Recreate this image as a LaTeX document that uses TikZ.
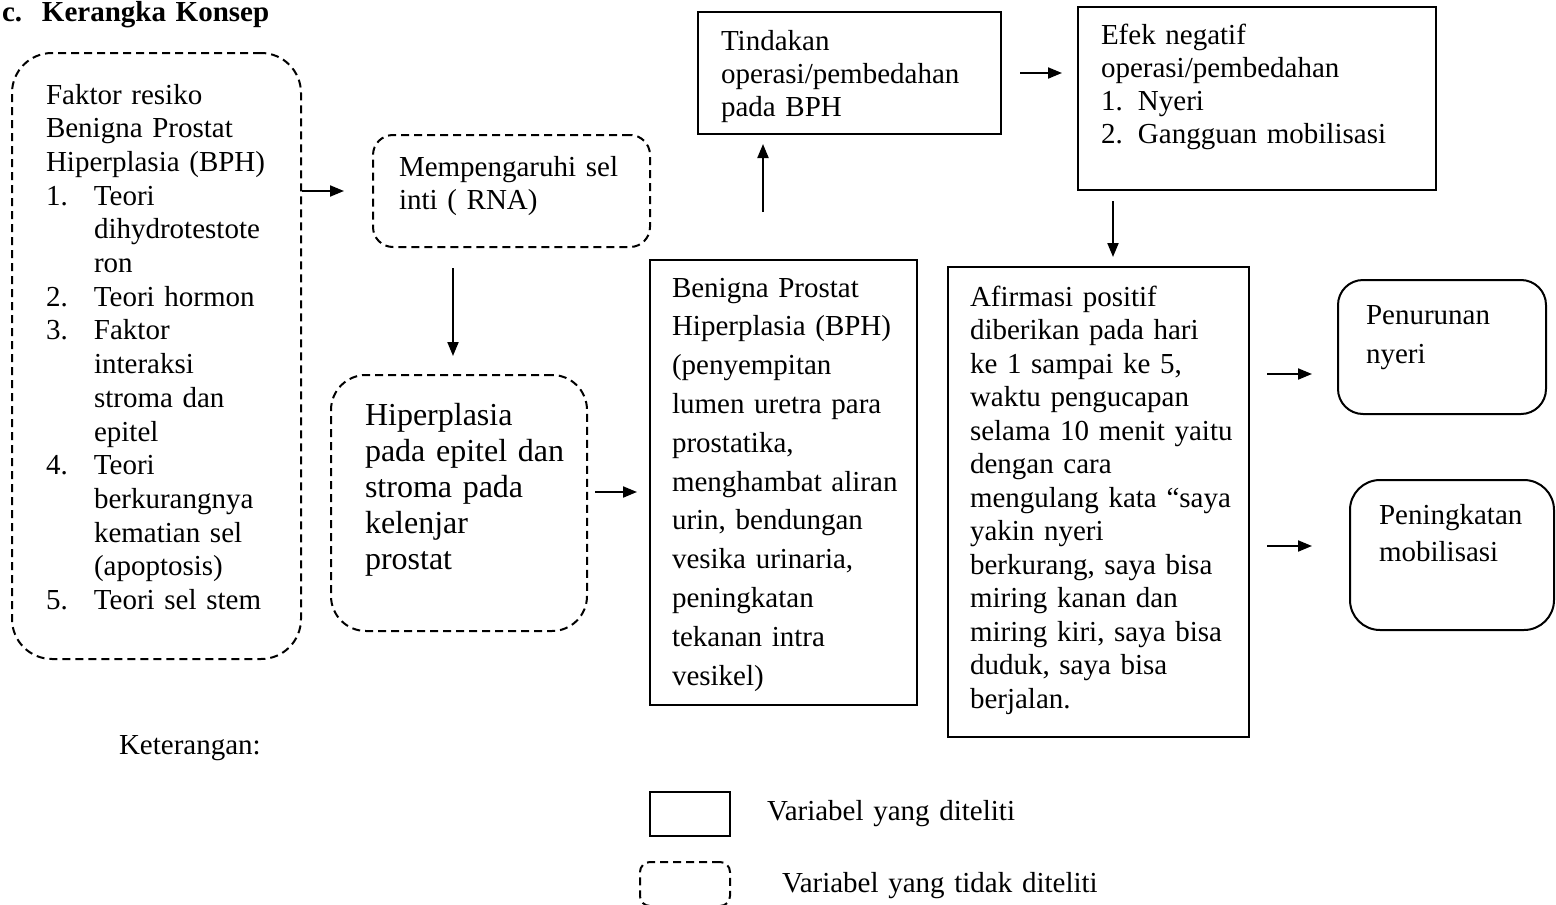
\documentclass[tikz,border=0pt]{standalone}
\usepackage{fontspec}
\setmainfont{Liberation Serif}
\usetikzlibrary{arrows.meta,calc}

\tikzset{every picture/.style={line width=2pt}}

\begin{document}
\begin{tikzpicture}[x=1pt,y=1pt,yscale=-1,xscale=1,
  solidbox/.style={draw, inner sep=0pt},
  dashbox/.style={draw, dash pattern=on 8pt off 5pt, inner sep=0pt},
  txt/.style={anchor=base west, inner sep=0pt, text width=330pt, align=left, font=\fontsize{29}{33.7}\selectfont},
  arr/.style={-{Triangle[length=14pt,width=11pt]}, line width=2pt}]
\clip (0,0) rectangle (1556,905);

%Title
\node[txt, font=\bfseries\fontsize{29}{33.7}\selectfont] (judul) at (1,21) {\makebox[40pt][l]{c.}Kerangka Konsep};

%Shape: Rounded Rect [faktor]
\node[dashbox, rounded corners=40pt, minimum width=289pt, minimum height=606pt] (faktor) at (156.5,356) {};
%Shape: Rounded Rect [rna]
\node[dashbox, rounded corners=20pt, minimum width=277pt, minimum height=112pt] (rna) at (511.5,191) {};
%Shape: Rounded Rect [hip]
\node[dashbox, rounded corners=35pt, minimum width=256pt, minimum height=256pt] (hip) at (459,503) {};
%Shape: Rectangle [bph]
\node[solidbox, minimum width=267pt, minimum height=445pt] (bph) at (783.5,482.5) {};
%Shape: Rectangle [tindakan]
\node[solidbox, minimum width=303pt, minimum height=122pt] (tind) at (849.5,73) {};
%Shape: Rectangle [efek]
\node[solidbox, minimum width=358pt, minimum height=183pt] (efek) at (1257,98.5) {};
%Shape: Rectangle [afirmasi]
\node[solidbox, minimum width=301pt, minimum height=470pt] (afir) at (1098.5,502) {};
%Shape: Rounded Rect [penurunan]
\node[solidbox, rounded corners=25pt, minimum width=208pt, minimum height=134pt] (turun) at (1442,347) {};
%Shape: Rounded Rect [peningkatan]
\node[solidbox, rounded corners=30pt, minimum width=204pt, minimum height=150pt] (tingkat) at (1452,555) {};
%Legend shapes
\node[solidbox, minimum width=80pt, minimum height=44pt] (lgsolid) at (690,814) {};
\node[dashbox, rounded corners=10pt, minimum width=90pt, minimum height=44pt] (lgdash) at (685,884) {};

% Text Node
\node[txt] (faktortxt) at (45,104) {Faktor resiko\\Benigna Prostat\\Hiperplasia (BPH)\\
\makebox[48pt][l]{1.}Teori\\\hspace*{48pt}dihydrotestote\\\hspace*{48pt}ron\\
\makebox[48pt][l]{2.}Teori hormon\\
\makebox[48pt][l]{3.}Faktor\\\hspace*{48pt}interaksi\\\hspace*{48pt}stroma dan\\\hspace*{48pt}epitel\\
\makebox[48pt][l]{4.}Teori\\\hspace*{48pt}berkurangnya\\\hspace*{48pt}kematian sel\\\hspace*{48pt}(apoptosis)\\
\makebox[48pt][l]{5.}Teori sel stem};
% Text Node
\node[txt] (rnatxt) at (398,176) {Mempengaruhi sel\\inti ( RNA)};
% Text Node
\node[txt, font=\fontsize{32}{36}\selectfont] (hiptxt) at (364,425) {Hiperplasia\\pada epitel dan\\stroma pada\\kelenjar\\prostat};
% Text Node
\node[txt, font=\fontsize{29}{38.8}\selectfont] (bphtxt) at (671,297) {Benigna Prostat\\Hiperplasia (BPH)\\(penyempitan\\lumen uretra para\\prostatika,\\menghambat aliran\\urin, bendungan\\vesika urinaria,\\peningkatan\\tekanan intra\\vesikel)};
% Text Node
\node[txt, font=\fontsize{29}{33}\selectfont] (tindtxt) at (720,50) {Tindakan\\operasi/pembedahan\\pada BPH};
% Text Node
\node[txt, font=\fontsize{29}{33}\selectfont] (efektxt) at (1100,44) {Efek negatif\\operasi/pembedahan\\\makebox[37pt][l]{1.}Nyeri\\\makebox[37pt][l]{2.}Gangguan mobilisasi};
% Text Node
\node[txt, font=\fontsize{29}{33.5}\selectfont] (afirtxt) at (969,306) {Afirmasi positif\\diberikan pada hari\\ke 1 sampai ke 5,\\waktu pengucapan\\selama 10 menit yaitu\\dengan cara\\mengulang kata “saya\\yakin nyeri\\berkurang, saya bisa\\miring kanan dan\\miring kiri, saya bisa\\duduk, saya bisa\\berjalan.};
% Text Node
\node[txt, font=\fontsize{29}{39}\selectfont] (turuntxt) at (1365,324) {Penurunan\\nyeri};
% Text Node
\node[txt, font=\fontsize{29}{37}\selectfont] (tingkattxt) at (1378,524) {Peningkatan\\mobilisasi};
% Text Node
\node[txt] (ket) at (118,754) {Keterangan:};
\node[txt] (lgsolidtxt) at (766,820) {Variabel yang diteliti};
\node[txt] (lgdashtxt) at (781,892) {Variabel yang tidak diteliti};

%Arrows
\draw[arr, shorten >=28pt] (faktor.east |- rna.west) -- (rna.west);
\draw[arr, shorten <=20pt, shorten >=18pt] ($(rna.south -| hip.north)+(-6,0)$) -- ($(hip.north)+(-6,0)$);
\draw[arr, shorten <=7pt, shorten >=12pt] ($(hip.east)+(0,-11)$) -- ($(bph.west |- hip.east)+(0,-11)$);
\draw[arr, shorten <=47pt, shorten >=9pt] ($(bph.north)+(-20.5,0)$) -- ($(bph.north |- tind.south)+(-20.5,0)$);
\draw[arr, shorten <=18pt, shorten >=15pt] (tind.east) -- (efek.west |- tind.east);
\draw[arr, shorten <=10pt, shorten >=9pt] ($(afir.north |- efek.south)+(14.5,0)$) -- ($(afir.north)+(14.5,0)$);
\draw[arr, shorten <=17pt, shorten >=25pt] ($(afir.east |- turun.west)+(0,27)$) -- ($(turun.west)+(0,27)$);
\draw[arr, shorten <=17pt, shorten >=37pt] ($(afir.east |- tingkat.west)+(0,-9)$) -- ($(tingkat.west)+(0,-9)$);

\end{tikzpicture}
\end{document}
